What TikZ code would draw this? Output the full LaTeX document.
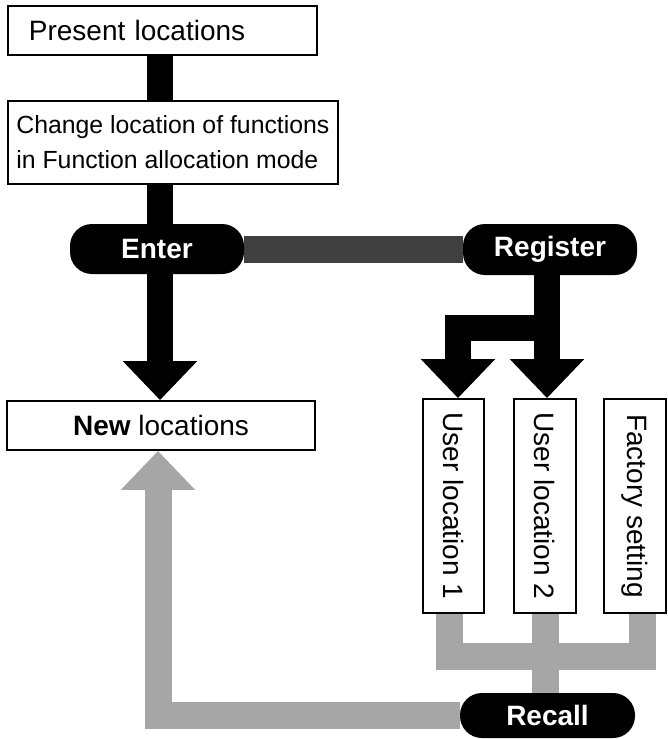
\documentclass[tikz,border=0pt]{standalone}
\usepackage{fontspec}
\setmainfont{Liberation Sans}
\usepackage{graphicx}
\usetikzlibrary{arrows.meta,backgrounds}
\begin{document}
\begin{tikzpicture}[x=1pt,y=-1pt,
  box/.style={draw=black,line width=1.8pt,fill=white,inner sep=0pt},
  txt/.style={font=\fontsize{28}{32}\selectfont},
  pill/.style={fill=black,rounded corners=22pt,text=white,inner sep=0pt,
    font=\bfseries\fontsize{28}{32}\selectfont},
  blk/.style={draw=black,line width=26pt},
  drk/.style={draw=black!75,line width=27pt},
  lgt/.style={draw=black!35,line width=27pt},
  bighead/.style={-{Triangle[length=39pt,width=72pt]}},
]
\useasboundingbox (0,0) rectangle (667,739);

\node[box,txt,anchor=north west,minimum height=49pt,text width=267pt,inner xsep=21pt,align=left]
  (present) at (7,5) {Present locations};
\node[box,anchor=north west,minimum width=330pt,minimum height=83pt,align=left,
  font=\fontsize{24.8}{35}\selectfont] (change) at (7,100)
  {Change location of functions\\in Function allocation mode};
\node[pill,minimum width=174pt,minimum height=50pt] (enter) at (157,249) {Enter};
\node[pill,minimum width=174pt,minimum height=51pt] (register) at (550,249.5) {Register};
\node[box,txt,minimum width=308pt,minimum height=49pt] (newloc) at (161,425.5)
  {\textbf{New} locations};
\node[box,txt,minimum width=61pt,minimum height=214pt] (ul1) at (453.5,506)
  {\rotatebox{-90}{User location 1}};
\node[box,txt,minimum width=62pt,minimum height=214pt] (ul2) at (545,506)
  {\rotatebox{-90}{User location 2}};
\node[box,txt,minimum width=62pt,minimum height=214pt] (fac) at (635,506)
  {\rotatebox{-90}{Factory setting}};
\node[pill,minimum width=175pt,minimum height=45pt] (recall) at (547.5,715.5) {Recall};

\coordinate (mx) at (160,0);
\coordinate (br) at (547,327.5);
\coordinate (bl) at (458,327.5);
\coordinate (hb) at (545,656.5);
\coordinate (gx) at (158,0);

\begin{scope}[on background layer]
  \draw[blk] (present.south -| mx) -- (change.north -| mx);
  \draw[blk] (change.south -| mx) -- (enter.north -| mx);
  \draw[blk,bighead] (enter.south -| mx) -- (newloc.north -| mx);
  \draw[drk] (enter.east) -- (enter.east -| register.west);
  \draw[blk,bighead] (register.south -| br) -- (ul2.north -| br);
  \draw[blk,bighead] (br) -- (bl) -- (ul1.north -| bl);
  \draw[lgt] ([xshift=-4.5pt]ul1.south) |- (hb) -| ([xshift=7pt]fac.south);
  \draw[lgt] (ul2.south) -- (recall.north -| ul2.south);
  \draw[lgt,bighead] (recall.west) -| (newloc.south -| gx);
\end{scope}
\end{tikzpicture}
\end{document}
